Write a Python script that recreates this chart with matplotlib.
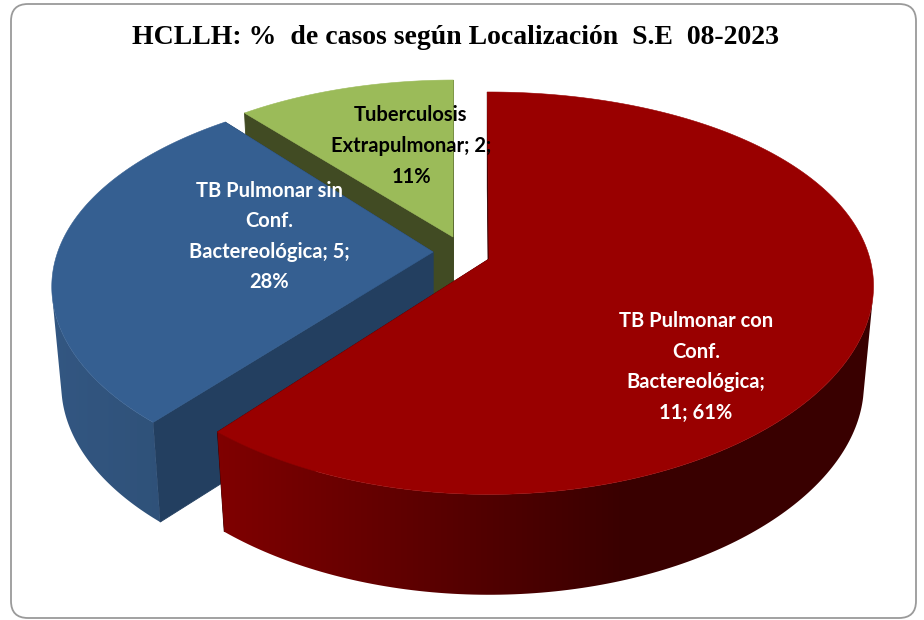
import numpy as np
import matplotlib
matplotlib.use("Agg")
import matplotlib.pyplot as plt
from matplotlib.patches import Polygon, FancyBboxPatch

# --- data ---
categories = ["TB Pulmonar con Conf. Bactereológica",
              "TB Pulmonar sin Conf. Bactereológica",
              "Tuberculosis Extrapulmonar"]
values = [11, 5, 2]
label_texts = ["TB Pulmonar con\nConf.\nBactereológica;\n11; 61%",
               "TB Pulmonar sin\nConf.\nBactereológica; 5;\n28%",
               "Tuberculosis\nExtrapulmonar; 2;\n11%"]
title = "HCLLH: %  de casos según Localización  S.E  08-2023"

# --- style / layout ---
top_colors = ["#990000", "#355F91", "#9BBB59"]
inner_colors = ["#3a0000", "#233F60", "#414B23"]
wall_left = [(0.50, 0, 0), (0.20, 0.34, 0.51), (0.3, 0.35, 0.17)]
wall_right = [(0.227, 0, 0), (0.185, 0.32, 0.475), (0.25, 0.3, 0.14)]
grad_range = [(220, 620), (50, 160), (240, 450)]
apexes = [(489, 259), (433, 252), (453, 237)]
radius_scale = [1.0, 0.985, 0.94]
x_skew = [0, 16, 2]
label_pos = [(696, 367), (269, 236.5), (411, 146)]
label_colors = ["white", "white", "black"]
BX, CX = 381, 0.135
AY, CY = 195.4, 0.17
BOTTOM_X, BOTTOM_Y, DEPTH = 0.975, 1.01, 98
START = -0.3

fig = plt.figure(figsize=(9.24, 6.2), dpi=100)
ax = fig.add_axes([0, 0, 1, 1])
ax.axis("off")

ax.add_patch(FancyBboxPatch((11, 4), 905, 614,
                            boxstyle="round,pad=0,rounding_size=17",
                            fc="white", ec="#9a9a9a", lw=1.3, zorder=1))


def project(theta_deg, apex, scale, skew, bottom=False):
    t = np.radians(theta_deg)
    u, v = np.sin(t), np.cos(t)
    x = BX * u / (1 + CX * v) * scale + skew * v
    y = -AY * v / (1 + CY * v) * scale
    if bottom:
        x, y = x * BOTTOM_X, y * BOTTOM_Y + DEPTH
    return apex[0] + x, apex[1] + y


fractions = np.array(values) / sum(values)
edges = START + 360 * np.concatenate([[0], np.cumsum(fractions)])

z = 2
# back-to-front: green, blue, red
for i in [2, 1, 0]:
    apex, sc, sk = apexes[i], radius_scale[i], x_skew[i]
    a0, a1 = edges[i], edges[i + 1]
    th = np.linspace(a0, a1, 241)
    xt, yt = project(th, apex, sc, sk)
    xb, yb = project(th, apex, sc, sk, bottom=True)

    # radial inner walls
    for a in (a0, a1):
        xa, ya = project(a, apex, sc, sk)
        xc, yc = project(a, apex, sc, sk, bottom=True)
        ax.add_patch(Polygon([(apex[0], apex[1]), (xa, ya), (xc, yc),
                              (apex[0], apex[1] + DEPTH)],
                             closed=True, fc=inner_colors[i],
                             ec=inner_colors[i], lw=0.6, zorder=z))
    z += 1

    # outer wall: only the front-facing part, horizontal gradient
    dx, dy = np.gradient(xt), np.gradient(yt)
    front = dx * (yb - yt) - dy * (xb - xt) < 0
    if front.any():
        g0, g1 = grad_range[i]
        xs = np.linspace(0, 924, 925)
        f = np.clip((xs - g0) / (g1 - g0), 0, 1)[None, :, None]
        grad = (np.array(wall_left[i])[None, None, :] * (1 - f)
                + np.array(wall_right[i])[None, None, :] * f)
        outline = Polygon(np.vstack([np.column_stack([xt[front], yt[front]]),
                                     np.column_stack([xb[front], yb[front]])[::-1]]),
                          closed=True, transform=ax.transData, fc="none", ec="none")
        ax.add_patch(outline)
        im = ax.imshow(grad, extent=(0, 924, 620, 0), aspect="auto", zorder=z,
                       interpolation="bilinear")
        im.set_clip_path(outline)
    z += 1

    # top face
    ax.add_patch(Polygon(np.vstack([[apex], np.column_stack([xt, yt])]),
                         closed=True, fc=top_colors[i], ec=top_colors[i], lw=0.4, zorder=z))
    z += 1

ax.set_xlim(0, 924)
ax.set_ylim(620, 0)

for lbl, pos, col in zip(label_texts, label_pos, label_colors):
    ax.text(pos[0], pos[1], lbl, color=col, ha="center", va="center", zorder=z,
            fontsize=14.5, fontweight="bold", family="Lato", linespacing=1.66)

ax.text(455, 37, title, ha="center", va="center", color="black", zorder=z,
        fontsize=20, fontweight="bold", family="Liberation Serif")

fig.savefig("out.png", dpi=100)
